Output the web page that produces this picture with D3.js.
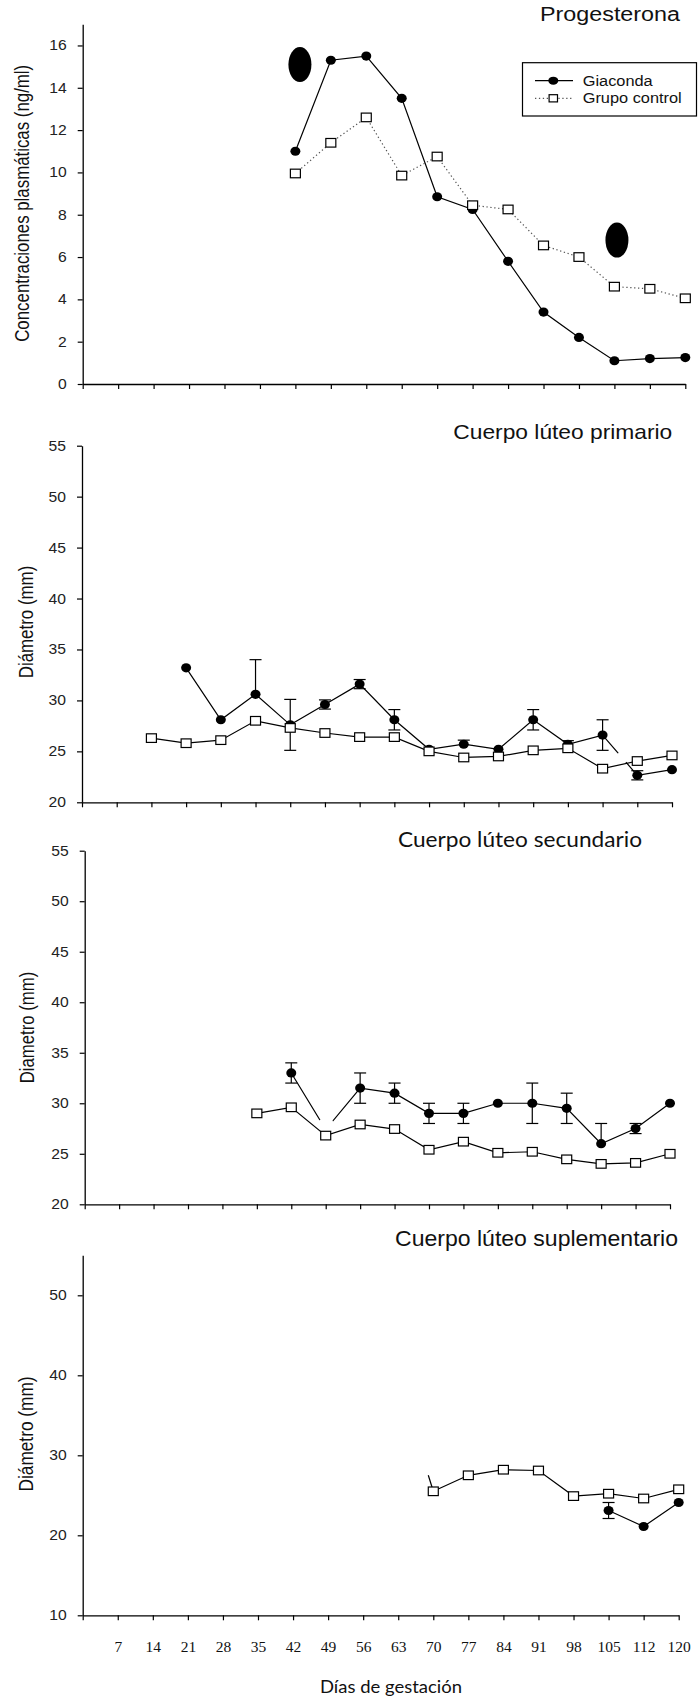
<!DOCTYPE html>
<html>
<head>
<meta charset="utf-8">
<script src="https://cdn.jsdelivr.net/npm/d3@7"></script>
<style>
  body { margin: 0; background: #fff; }
  svg { display: block; }
</style>
</head>
<body>
<svg id="chart" width="699" height="1700"></svg>
<script>
// ---- Data --------------------------------------------------------------
const days = [0, 7, 14, 21, 28, 35, 42, 49, 56, 63, 70, 77, 84, 91, 98, 105, 112, 120];
const dayLabels = ["", "7", "14", "21", "28", "35", "42", "49", "56", "63", "70", "77", "84", "91", "98", "105", "112", "120"];
const seriesNames = ["Giaconda", "Grupo control"];
const panelTitles = ["Progesterona", "Cuerpo lúteo primario", "Cuerpo lúteo secundario", "Cuerpo lúteo suplementario"];
const yTitles = ["Concentraciones plasmáticas (ng/ml)", "Diámetro (mm)", "Diametro (mm)", "Diámetro (mm)"];
const xTitle = "Días de gestación";

const progTicks = [0, 2, 4, 6, 8, 10, 12, 14, 16];
const diamTicks = [20, 25, 30, 35, 40, 45, 50, 55];
const suplTicks = [10, 20, 30, 40, 50];

// Progesterona (ng/ml)
const progGiaconda = [null, null, null, null, null, null, 11.0, 15.3, 15.5, 13.5, 8.85, 8.25, 5.8, 3.4, 2.2, 1.1, 1.2, 1.25];
const progControl  = [null, null, null, null, null, null, 9.95, 11.4, 12.6, 9.85, 10.75, 8.45, 8.25, 6.55, 6.0, 4.6, 4.5, 4.05];
const progEvents   = [{ day: 42.9, value: 15.1 }, { day: 105.5, value: 6.8 }];

// Cuerpo lúteo primario (mm)
const primGiaconda = [null, null, null, 33.2, 28.1, 30.6, 27.6, 29.6, 31.6, 28.1, 25.2, 25.7, 25.2, 28.1, 25.7, 26.6, 22.65, 23.2];
const primErrUp    = [0, 0, 0, 0, 0, 3.4, 2.5, 0.45, 0.45, 1.0, 0, 0.4, 0, 1.0, 0.35, 1.5, 0.45, 0];
const primErrDown  = [0, 0, 0, 0, 0, 0, 2.5, 0.45, 0.45, 1.0, 0, 0, 0, 1.0, 0, 1.5, 0.45, 0];
const primControl  = [null, null, 26.3, 25.8, 26.1, 28.0, 27.3, 26.8, 26.4, 26.4, 25.0, 24.4, 24.5, 25.1, 25.3, 23.3, 24.05, 24.6];
const primBreaks   = [{ day: 109, value: 24.4 }];

// Cuerpo lúteo secundario (mm)
const secGiaconda = [null, null, null, null, null, null, 33.0, 27.4, 31.5, 31.0, 29.0, 29.0, 30.0, 30.0, 29.5, 26.0, 27.5, 30.0];
const secErrUp    = [0, 0, 0, 0, 0, 0, 1.0, 0, 1.5, 1.0, 1.0, 1.0, 0, 2.0, 1.5, 2.0, 0.5, 0];
const secErrDown  = [0, 0, 0, 0, 0, 0, 1.0, 0, 1.5, 1.0, 1.0, 1.0, 0, 2.0, 1.5, 0, 0.5, 0];
const secControl  = [null, null, null, null, null, 29.0, 29.6, 26.8, 27.9, 27.45, 25.4, 26.2, 25.1, 25.2, 24.45, 24.0, 24.1, 25.0];
const secBreaks   = [{ day: 49, value: 27.4 }];

// Cuerpo lúteo suplementario (mm)
const suplGiaconda = [null, null, null, null, null, null, null, null, null, null, null, null, null, null, null, 23.1, 21.1, 24.1];
const suplErrUp    = [0, 0, 0, 0, 0, 0, 0, 0, 0, 0, 0, 0, 0, 0, 0, 1.0, 0, 0];
const suplErrDown  = [0, 0, 0, 0, 0, 0, 0, 0, 0, 0, 0, 0, 0, 0, 0, 1.0, 0, 0];
const suplControl  = [null, null, null, null, null, null, null, null, null, null, 25.5, 27.5, 28.2, 28.1, 24.9, 25.2, 24.6, 25.75];
const suplTrace    = [{ day: 69, value: 27.5 }, { day: 70, value: 25.5 }];

// ---- Drawing -----------------------------------------------------------
const svg = d3.select("#chart");
const SANS = "'Liberation Sans', Arial, sans-serif";
const SERIF = "'Liberation Serif', 'Times New Roman', serif";
const CAL = "Lato, 'Open Sans', sans-serif";

const panels = [
  { left: 82.7, right: 685.3, top: 24.3, bottom: 384, domain: [0, 17], ticks: progTicks,
    giaconda: progGiaconda, control: progControl, dottedControl: true,
    title: { text: panelTitles[0], x: 540, y: 20.7, len: 140, size: 20, font: SANS },
    ytitle: { text: yTitles[0], x: 29.3, y: 203.3, len: 277 } },
  { left: 82, right: 672, top: 445.7, bottom: 802.3, domain: [20, 55], ticks: diamTicks,
    giaconda: primGiaconda, up: primErrUp, down: primErrDown, control: primControl,
    breaks: primBreaks, breakR: 6,
    title: { text: panelTitles[1], x: 453.3, y: 439.3, len: 219, size: 21, font: SANS },
    ytitle: { text: yTitles[1], x: 32.7, y: 622, len: 112.6 } },
  { left: 84.7, right: 670, top: 850.7, bottom: 1204.3, domain: [20, 55], ticks: diamTicks,
    giaconda: secGiaconda, up: secErrUp, down: secErrDown, control: secControl,
    breaks: secBreaks, breakR: 11,
    title: { text: panelTitles[2], x: 398, y: 846.7, len: 244, size: 22, font: CAL },
    ytitle: { text: yTitles[2], x: 34.3, y: 1027.5, len: 111.7 } },
  { left: 82.7, right: 678.7, top: 1255.3, bottom: 1615.3, domain: [10, 55], ticks: suplTicks,
    giaconda: suplGiaconda, up: suplErrUp, down: suplErrDown, control: suplControl,
    trace: suplTrace, xLabels: true,
    title: { text: panelTitles[3], x: 395, y: 1246, len: 283, size: 21.5, font: SANS },
    ytitle: { text: yTitles[3], x: 32.7, y: 1434, len: 115 } }
];

function circleMark(sel, rx, ry) {
  return sel.append("ellipse").attr("rx", rx).attr("ry", ry).attr("fill", "#000");
}

panels.forEach((p) => {
  const step = (p.right - p.left) / (days.length - 1);
  const x = d3.scaleLinear().domain(days).range(days.map((d, i) => p.left + i * step));
  const y = d3.scaleLinear().domain(p.domain).range([p.bottom, p.top]);
  const g = svg.append("g");

  // axes
  const xAxis = d3.axisBottom(x).tickValues(days).tickSize(5).tickSizeOuter(0)
    .tickPadding(21).tickFormat((d, i) => p.xLabels ? dayLabels[i] : "");
  const gx = g.append("g").attr("transform", `translate(0,${p.bottom})`).call(xAxis);
  gx.selectAll("text").attr("font-family", SERIF).attr("font-size", 15.5).attr("fill", "#111");

  const yAxis = d3.axisLeft(y).tickValues(p.ticks).tickSize(5).tickSizeOuter(0).tickPadding(11);
  const gy = g.append("g").attr("transform", `translate(${p.left},0)`).call(yAxis);
  gy.selectAll("text")
    .attr("font-family", SANS).attr("font-size", 14).attr("fill", "#222")
    .attr("transform", "scale(1.12,1)")
    .attr("x", -16 / 1.12);
  [gx, gy].forEach(a => {
    a.select(".domain").attr("stroke", "#000").attr("stroke-width", 1.3);
    a.selectAll(".tick line").attr("stroke", "#000").attr("stroke-width", 1.2);
  });

  // titles
  g.append("text").text(p.title.text)
    .attr("x", p.title.x).attr("y", p.title.y)
    .attr("font-family", p.title.font).attr("font-size", p.title.size).attr("fill", "#111")
    .attr("textLength", p.title.len).attr("lengthAdjust", "spacingAndGlyphs");

  g.append("text").text(p.ytitle.text)
    .attr("transform", `translate(${p.ytitle.x},${p.ytitle.y}) scale(1.18,1) rotate(-90)`)
    .attr("text-anchor", "middle")
    .attr("font-family", SANS).attr("font-size", 17).attr("fill", "#111")
    .attr("textLength", p.ytitle.len).attr("lengthAdjust", "spacingAndGlyphs");

  const gData = days.map((d, i) => ({ day: d, v: p.giaconda[i],
    up: p.up ? p.up[i] : 0, down: p.down ? p.down[i] : 0 }));
  const cData = days.map((d, i) => ({ day: d, v: p.control[i] }));

  const line = d3.line().defined(d => d.v != null).x(d => x(d.day)).y(d => y(d.v));

  // Giaconda line
  g.append("path").datum(gData).attr("d", line)
    .attr("fill", "none").attr("stroke", "#000").attr("stroke-width", 1.2);

  // error bars
  const cap = 6;
  gData.filter(d => d.v != null && (d.up > 0 || d.down > 0)).forEach(d => {
    const cx = x(d.day);
    const y1 = y(d.v + d.up), y2 = y(d.v - d.down);
    g.append("line").attr("x1", cx).attr("x2", cx).attr("y1", y1).attr("y2", y2)
      .attr("stroke", "#000").attr("stroke-width", 1.2);
    if (d.up > 0) g.append("line").attr("x1", cx - cap).attr("x2", cx + cap).attr("y1", y1).attr("y2", y1)
      .attr("stroke", "#000").attr("stroke-width", 1.2);
    if (d.down > 0) g.append("line").attr("x1", cx - cap).attr("x2", cx + cap).attr("y1", y2).attr("y2", y2)
      .attr("stroke", "#000").attr("stroke-width", 1.2);
  });

  // breaks in the Giaconda trace
  const breakDays = (p.breaks || []).map(b => b.day);
  (p.breaks || []).forEach(b => {
    g.append("circle").attr("cx", x(b.day)).attr("cy", y(b.value)).attr("r", p.breakR).attr("fill", "#fff");
  });

  // Giaconda markers
  gData.filter(d => d.v != null && !breakDays.includes(d.day)).forEach(d => {
    circleMark(g, 5, 4.6).attr("cx", x(d.day)).attr("cy", y(d.v));
  });

  // leftover trace segment
  if (p.trace) {
    g.append("path").datum(p.trace)
      .attr("d", d3.line().x(d => x(d.day)).y(d => y(d.value)))
      .attr("fill", "none").attr("stroke", "#000").attr("stroke-width", 1.2);
  }

  // control line + squares
  g.append("path").datum(cData).attr("d", line)
    .attr("fill", "none")
    .attr("stroke", p.dottedControl ? "#555" : "#000")
    .attr("stroke-width", 1.2)
    .attr("stroke-dasharray", p.dottedControl ? "1.3,2.6" : null);
  const sw = 10, sh = 8.6;
  g.selectAll("rect.ctrl").data(cData.filter(d => d.v != null)).join("rect")
    .attr("class", "ctrl")
    .attr("x", d => x(d.day) - sw / 2).attr("y", d => y(d.v) - sh / 2)
    .attr("width", sw).attr("height", sh)
    .attr("fill", "#fff").attr("stroke", "#000").attr("stroke-width", 1.2);

  // event markers (progesterone panel)
  if (p === panels[0]) {
    g.selectAll("ellipse.event").data(progEvents).join("ellipse")
      .attr("class", "event")
      .attr("cx", d => x(d.day)).attr("cy", d => y(d.value))
      .attr("rx", 11.5).attr("ry", 17.5).attr("fill", "#000");

    // legend
    const lg = g.append("g");
    lg.append("rect").attr("x", 522.5).attr("y", 62.7).attr("width", 174).attr("height", 53.3)
      .attr("fill", "#fff").attr("stroke", "#000").attr("stroke-width", 1.2);
    lg.append("line").attr("x1", 535).attr("x2", 573).attr("y1", 80.7).attr("y2", 80.7)
      .attr("stroke", "#000").attr("stroke-width", 1.2);
    circleMark(lg, 5, 4).attr("cx", 553.3).attr("cy", 80.7);
    lg.append("line").attr("x1", 535).attr("x2", 573).attr("y1", 98.3).attr("y2", 98.3)
      .attr("stroke", "#555").attr("stroke-width", 1.2).attr("stroke-dasharray", "1.3,2.6");
    lg.append("rect").attr("x", 553.3 - 4.2).attr("y", 98.3 - 3.6).attr("width", 8.4).attr("height", 7.2)
      .attr("fill", "#fff").attr("stroke", "#000").attr("stroke-width", 1.2);
    lg.append("text").text(seriesNames[0]).attr("x", 582.7).attr("y", 85.7)
      .attr("font-family", SANS).attr("font-size", 14).attr("fill", "#111")
      .attr("textLength", 70).attr("lengthAdjust", "spacingAndGlyphs");
    lg.append("text").text(seriesNames[1]).attr("x", 582.7).attr("y", 103)
      .attr("font-family", SANS).attr("font-size", 14).attr("fill", "#111")
      .attr("textLength", 99).attr("lengthAdjust", "spacingAndGlyphs");
  }
});

// x-axis title
svg.append("text").text(xTitle)
  .attr("x", 391).attr("y", 1693).attr("text-anchor", "middle")
  .attr("font-family", CAL).attr("font-size", 18).attr("fill", "#111")
  .attr("textLength", 142).attr("lengthAdjust", "spacingAndGlyphs");
</script>
</body>
</html>
